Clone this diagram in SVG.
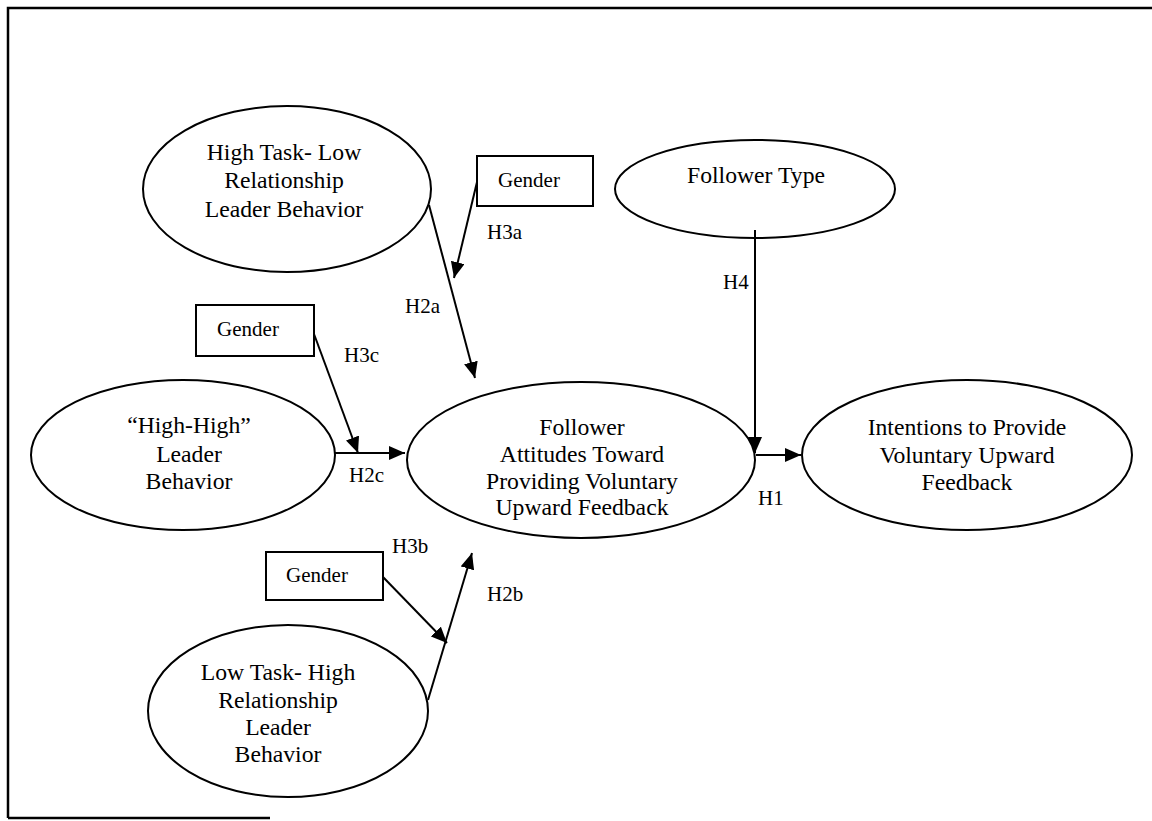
<svg xmlns="http://www.w3.org/2000/svg" width="1152" height="821" viewBox="0 0 1152 821">
<defs>
<style>
.n{fill:#fff;stroke:#000;stroke-width:2}
.t{font-family:"Liberation Serif","Times New Roman",serif;font-size:23.7px;fill:#000;text-anchor:middle}
.g{font-family:"Liberation Serif","Times New Roman",serif;font-size:21px;fill:#000;text-anchor:middle}
.l{font-family:"Liberation Serif","Times New Roman",serif;font-size:21px;fill:#000}
.c{fill:none;stroke:#000;stroke-width:2}
</style>
<marker id="ah" markerUnits="userSpaceOnUse" markerWidth="17" markerHeight="14" refX="16" refY="7" orient="auto">
<path d="M0,0 L16,7 L0,14 z" fill="#000"/>
</marker>
</defs>
<rect width="1152" height="821" fill="#fff"/>
<path d="M8,818 L8,8 L1152,8 M8,818 L270,818" fill="none" stroke="#000" stroke-width="2.5"/>

<g id="node-hightask">
<ellipse class="n" cx="287" cy="189" rx="144" ry="83"/>
<text class="t" x="284" y="160">High Task- Low</text>
<text class="t" x="284" y="188">Relationship</text>
<text class="t" x="284" y="217">Leader Behavior</text>
</g>

<g id="node-gender-a">
<rect class="n" x="477" y="156" width="116" height="50"/>
<text class="g" x="529" y="187">Gender</text>
</g>

<g id="node-followertype">
<ellipse class="n" cx="755" cy="189" rx="140" ry="49"/>
<text class="t" x="756" y="183">Follower Type</text>
</g>

<g id="node-gender-c">
<rect class="n" x="196" y="305" width="118" height="51"/>
<text class="g" x="248" y="336">Gender</text>
</g>

<g id="node-highhigh">
<ellipse class="n" cx="183" cy="455" rx="152" ry="75"/>
<text class="t" x="189" y="433">“High-High”</text>
<text class="t" x="189" y="462">Leader</text>
<text class="t" x="189" y="489">Behavior</text>
</g>

<g id="node-attitudes">
<ellipse class="n" cx="581" cy="460" rx="174" ry="78"/>
<text class="t" x="582" y="435">Follower</text>
<text class="t" x="582" y="462">Attitudes Toward</text>
<text class="t" x="582" y="489">Providing Voluntary</text>
<text class="t" x="582" y="515">Upward Feedback</text>
</g>

<g id="node-intentions">
<ellipse class="n" cx="967" cy="455" rx="165" ry="75"/>
<text class="t" x="967" y="435">Intentions to Provide</text>
<text class="t" x="967" y="463">Voluntary Upward</text>
<text class="t" x="967" y="490">Feedback</text>
</g>

<g id="node-gender-b">
<rect class="n" x="266" y="552" width="117" height="48"/>
<text class="g" x="317" y="582">Gender</text>
</g>

<g id="node-lowtask">
<ellipse class="n" cx="288" cy="711" rx="140" ry="86"/>
<text class="t" x="278" y="680">Low Task- High</text>
<text class="t" x="278" y="708">Relationship</text>
<text class="t" x="278" y="735">Leader</text>
<text class="t" x="278" y="762">Behavior</text>
</g>

<g id="connectors">
<path class="c" d="M429,205 L475,378" marker-end="url(#ah)"/>
<path class="c" d="M477,182 L454,278" marker-end="url(#ah)"/>
<path class="c" d="M314,334 L358,453" marker-end="url(#ah)"/>
<path class="c" d="M335,453 L405,453" marker-end="url(#ah)"/>
<path class="c" d="M428,700 L472,553" marker-end="url(#ah)"/>
<path class="c" d="M383,577 L447,643" marker-end="url(#ah)"/>
<path class="c" d="M755,230 L755,453" marker-end="url(#ah)"/>
<path class="c" d="M756,455 L801,455" marker-end="url(#ah)"/>
<text class="l" x="405" y="313">H2a</text>
<text class="l" x="487" y="239">H3a</text>
<text class="l" x="344" y="362">H3c</text>
<text class="l" x="349" y="482">H2c</text>
<text class="l" x="392" y="553">H3b</text>
<text class="l" x="487" y="601">H2b</text>
<text class="l" x="723" y="289">H4</text>
<text class="l" x="758" y="505">H1</text>
</g>
</svg>
